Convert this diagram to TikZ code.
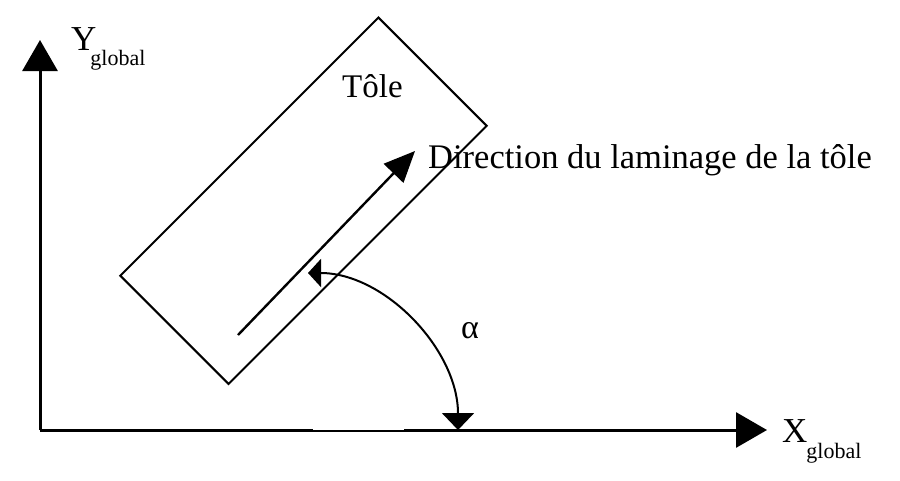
\documentclass[tikz,border=0pt]{standalone}
\usepackage{fontspec}
\setmainfont{Liberation Serif}
\usetikzlibrary{arrows.meta}
\begin{document}
\begin{tikzpicture}[x=1pt,y=-1pt,
  axis/.style={line width=3pt,-{Triangle[length=31pt,width=35pt]}},
  sheet/.style={draw,line width=2pt,rectangle,minimum width=365pt,minimum height=153pt,inner sep=0pt},
  dirarrow/.style={line width=2.4pt,-{Triangle[length=31pt,width=27pt]}},
  anglearc/.style={line width=2pt,{Triangle[length=13pt,width=28pt]}-{Triangle[length=17pt,width=32pt]}},
  lbl/.style={anchor=base west,inner sep=0pt,font=\fontsize{34.5}{40}\selectfont},
  sub/.style={font=\fontsize{22}{24}\selectfont}
]
\useasboundingbox (0,0) rectangle (900,480);
\coordinate (O) at (40,430);
\coordinate (Yend) at (40,40);
\coordinate (Xend) at (767,430);
\draw[axis] (O) -- (Yend);
\draw[axis] (O) -- (Xend);
\coordinate (g1) at (313,428.9);
\coordinate (g2) at (404,428.9);
\draw[white,line width=1.2pt] (g1) -- (g2);
\node[sheet,rotate=45] (tole) at (303.5,200.75) {};
\node[lbl,font=\fontsize{35}{40}\selectfont] (ylab) at (71,50) {Y\kern-6pt\raisebox{-15pt}{\fontsize{22}{24}\selectfont global}};
\node[lbl,font=\fontsize{35}{40}\selectfont] (xlab) at (782,442) {X\kern-1pt\raisebox{-16pt}{\fontsize{22}{24}\selectfont global}};
\node[lbl,font=\fontsize{33}{40}\selectfont] (toletxt) at (342,97) {Tôle};
\node[lbl] (dirtxt) at (428,168) {Direction du laminage de la tôle};
\node[lbl,font=\fontsize{34}{40}\selectfont] (alpha) at (461,338) {α};
\coordinate (ds) at (238,335);
\coordinate (de) at (415,151);
\draw[dirarrow] (ds) -- (de);
\coordinate (as) at (308,273);
\coordinate (ae) at (458,430);
\draw[anglearc] (as) .. controls (385,273) and (458,350) .. (ae);
\end{tikzpicture}
\end{document}
